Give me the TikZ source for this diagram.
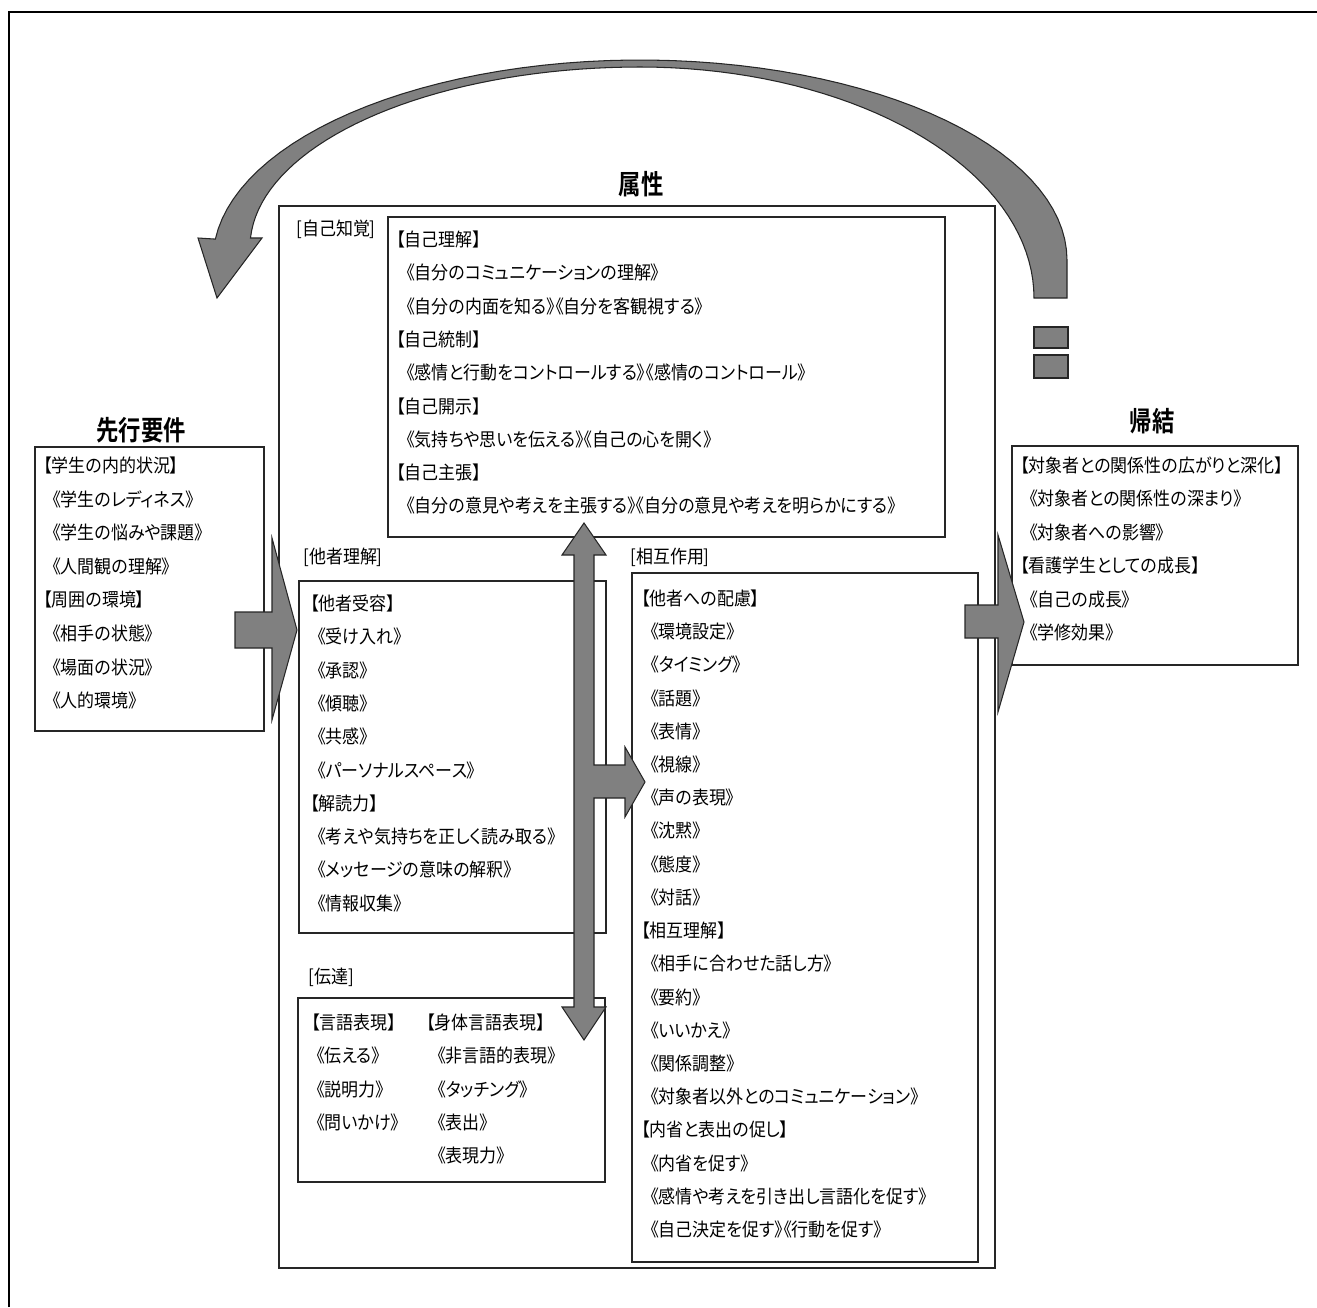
\documentclass[tikz,border=0pt]{standalone}
\usepackage{fontspec}
\setmainfont{Noto Sans CJK JP}[BoldFont={Noto Sans CJK JP Bold},RawFeature=+palt]
\newcommand{\nrw}[1]{\scalebox{0.92}[1]{#1}}

\begin{document}
\begin{tikzpicture}[x=0.02cm,y=-0.02cm,
    box/.style={draw=black!85,line width=0.7pt},
    blockarrow/.style={draw=black!85,fill=black!50,line width=0.6pt,line join=miter},
    txt/.style={anchor=west,inner sep=0pt,font=\fontsize{10.5}{12}\selectfont,text height=0.85em,text depth=0.1em},
    heading/.style={inner sep=0pt,font=\bfseries\fontsize{15.5}{18}\selectfont}]
        \useasboundingbox (0,0) rectangle (1317,1307);
        \draw[line width=1.4pt] (9,1307) -- (9,12) -- (1317,12);
        % titles
        \node[heading] (zokusei) at (641,184) {\scalebox{0.82}[1]{属性}};
        \node[heading] (senko) at (141,430) {\scalebox{0.82}[1]{先行要件}};
        \node[heading] (kiketsu) at (1152,421) {\scalebox{0.82}[1]{帰結}};
        % boxes
        \draw[box] (279,206) rectangle (995,1268);
        \draw[box] (388,217) rectangle (945,537);
        \draw[box] (35,447) rectangle (264,731);
        \draw[box] (1012,446) rectangle (1298,665);
        \draw[box] (299,581) rectangle (606,933);
        \draw[box] (632,573) rectangle (978,1262);
        \draw[box] (298,998) rectangle (605,1182);
        \node[txt] (jikochikaku) at (296,229) {\nrw{[自己知覚]}};
        \node[txt] (tasharikai) at (303,557) {\nrw{[他者理解]}};
        \node[txt] (sogosayo) at (630,557) {\nrw{[相互作用]}};
        \node[txt] (dentatsu) at (308,977) {\nrw{[伝達]}};
        % texts
        \foreach \lbl/\ind [count=\i from 0] in {【自己理解】/0,《自分のコミュニケーションの理解》/1,《自分の内面を知る》《自分を客観視する》/1,【自己統制】/0,《感情と行動をコントロールする》《感情のコントロール》/1,【自己開示】/0,《気持ちや思いを伝える》《自己の心を開く》/1,【自己主張】/0,《自分の意見や考えを主張する》《自分の意見や考えを明らかにする》/1}
            \node[txt] (jk\i) at ({396+10*\ind},{240+33.3*\i}) {\nrw{\lbl}};
        \foreach \lbl/\ind [count=\i from 0] in {【学生の内的状況】/0,《学生のレディネス》/1,《学生の悩みや課題》/1,《人間観の理解》/1,【周囲の環境】/0,《相手の状態》/1,《場面の状況》/1,《人的環境》/1}
            \node[txt] (sk\i) at ({43+9*\ind},{466+33.6*\i}) {\nrw{\lbl}};
        \foreach \lbl/\ind [count=\i from 0] in {【対象者との関係性の広がりと深化】/0,《対象者との関係性の深まり》/1,《対象者への影響》/1,【看護学生としての成長】/0,《自己の成長》/1,《学修効果》/1}
            \node[txt] (kk\i) at ({1020+9*\ind},{466+33.4*\i}) {\nrw{\lbl}};
        \foreach \lbl/\ind [count=\i from 0] in {【他者受容】/0,《受け入れ》/1,《承認》/1,《傾聴》/1,《共感》/1,《パーソナルスペース》/1,【解読力】/0,《考えや気持ちを正しく読み取る》/1,《メッセージの意味の解釈》/1,《情報収集》/1}
            \node[txt] (tr\i) at ({310+7*\ind},{604+33.3*\i}) {\nrw{\lbl}};
        \foreach \lbl/\ind [count=\i from 0] in {【他者への配慮】/0,《環境設定》/1,《タイミング》/1,《話題》/1,《表情》/1,《視線》/1,《声の表現》/1,《沈黙》/1,《態度》/1,《対話》/1,【相互理解】/0,《相手に合わせた話し方》/1,《要約》/1,《いいかえ》/1,《関係調整》/1,《対象者以外とのコミュニケーション》/1,【内省と表出の促し】/0,《内省を促す》/1,《感情や考えを引き出し言語化を促す》/1,《自己決定を促す》《行動を促す》/1}
            \node[txt] (sg\i) at ({641+9*\ind},{599+33.2*\i}) {\nrw{\lbl}};
        \foreach \lbl/\ind [count=\i from 0] in {【言語表現】/0,《伝える》/1,《説明力》/1,《問いかけ》/1}
            \node[txt] (dg\i) at ({311+5*\ind},{1023+33.2*\i}) {\nrw{\lbl}};
        \foreach \lbl/\ind [count=\i from 0] in {【身体言語表現】/0,《非言語的表現》/1,《タッチング》/1,《表出》/1,《表現力》/1}
            \node[txt] (dt\i) at ({426+11*\ind},{1023+33.2*\i}) {\nrw{\lbl}};
        % block arrows
        \path[blockarrow] (235,612) -- (272,612) -- (272,538) -- (297,630) -- (272,720) -- (272,648) -- (235,648) -- cycle;
        \path[blockarrow] (965,605) -- (998,605) -- (998,535) -- (1024,622) -- (998,712) -- (998,638) -- (965,638) -- cycle;
        \path[blockarrow] (584,523) -- (606,555) -- (594,555) -- (594,765) -- (625,765) -- (625,747) -- (645,782) -- (625,817) -- (625,798) -- (594,798) -- (594,1007) -- (606,1007) -- (584,1040) -- (562,1007) -- (574,1007) -- (574,555) -- (562,555) -- cycle;
        % curved arrow back to the left
        \path[blockarrow] (1067,298) -- (1067,260)
            -- plot[domain=0:-174,samples=60] ({640+427*cos(\x)},{260+200*sin(\x)})
            -- (198,238) -- (217,298) -- (262,238) -- (250.5,238)
            -- plot[domain=177:90,samples=40] ({640+390*cos(\x)},{247-180*sin(\x)})
            -- plot[domain=90:0,samples=40] ({640+394*cos(\x)},{298-231*sin(\x)})
            -- (1034,298) -- cycle;
        \path[blockarrow] (1034,327) rectangle (1068,348);
        \path[blockarrow] (1034,355) rectangle (1068,378);
    \end{tikzpicture}
\end{document}
